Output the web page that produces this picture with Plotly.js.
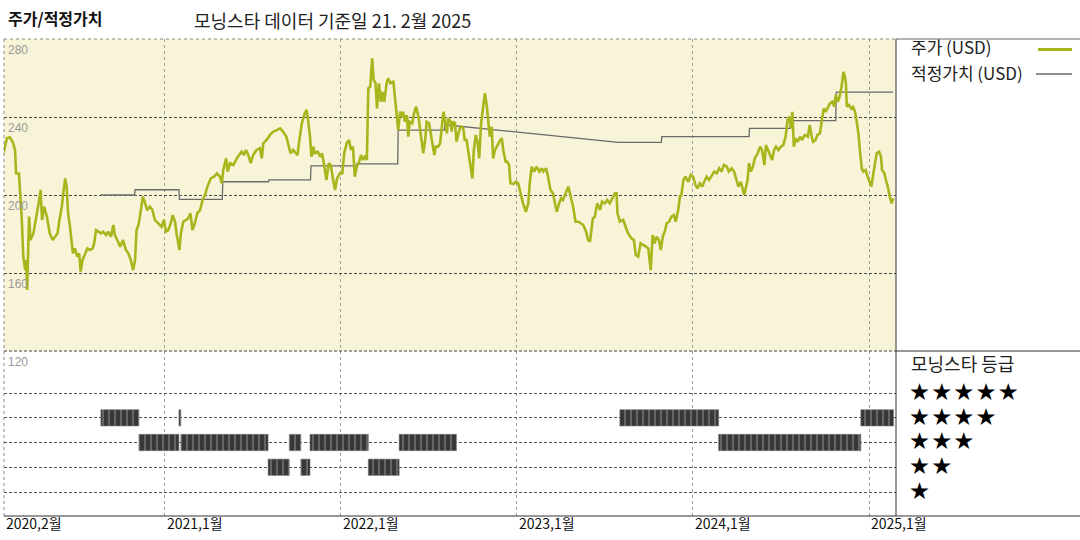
<!DOCTYPE html>
<html><head><meta charset="utf-8">
<script src="https://cdn.plot.ly/plotly-3.0.1.min.js"></script>
<style>html,body{margin:0;padding:0;background:#fff;}#chart{width:1080px;height:540px;}</style>
</head><body><div id="chart"></div>
<script>
// ---- Data ----
const priceDates = [
'2020-02-01','2020-02-08','2020-02-14','2020-02-20','2020-02-25','2020-02-27','2020-03-04','2020-03-08','2020-03-10','2020-03-13',
'2020-03-17','2020-03-19','2020-03-21','2020-03-25','2020-03-28','2020-04-03','2020-04-11','2020-04-15','2020-04-18','2020-04-21',
'2020-04-25','2020-05-01','2020-05-07','2020-05-13','2020-05-18','2020-05-23','2020-05-27','2020-06-01','2020-06-04','2020-06-08',
'2020-06-11','2020-06-14','2020-06-18','2020-06-24','2020-06-28','2020-07-03','2020-07-07','2020-07-10','2020-07-14','2020-07-19',
'2020-07-24','2020-07-29','2020-08-04','2020-08-07','2020-08-11','2020-08-16','2020-08-21','2020-08-26','2020-09-01','2020-09-05',
'2020-09-11','2020-09-16','2020-09-19','2020-09-24','2020-09-30','2020-10-06','2020-10-12','2020-10-17','2020-10-22','2020-10-27',
'2020-10-31','2020-11-03','2020-11-07','2020-11-10','2020-11-16','2020-11-21','2020-11-25','2020-12-01','2020-12-06','2020-12-11',
'2020-12-18','2020-12-25','2020-12-30',
'2021-01-03','2021-01-08','2021-01-13','2021-01-17','2021-01-22','2021-01-25','2021-01-31','2021-02-03','2021-02-08','2021-02-14',
'2021-02-18','2021-02-23','2021-02-27','2021-03-04','2021-03-09','2021-03-15','2021-03-20','2021-03-25','2021-03-30','2021-04-06',
'2021-04-13','2021-04-19','2021-04-25','2021-04-29','2021-05-02','2021-05-08','2021-05-11','2021-05-16','2021-05-23','2021-05-30',
'2021-06-04','2021-06-09','2021-06-14','2021-06-18','2021-06-23','2021-06-28','2021-07-03','2021-07-10','2021-07-17','2021-07-21',
'2021-07-24','2021-07-31','2021-08-07','2021-08-14','2021-08-21','2021-08-28','2021-09-03','2021-09-10','2021-09-15','2021-09-19',
'2021-09-24','2021-09-29','2021-10-03','2021-10-06','2021-10-12','2021-10-18','2021-10-22','2021-10-25','2021-10-29','2021-11-01',
'2021-11-05','2021-11-08','2021-11-14','2021-11-19','2021-11-23','2021-11-28','2021-12-02','2021-12-07','2021-12-11','2021-12-16',
'2021-12-20','2021-12-24','2021-12-30',
'2022-01-04','2022-01-08','2022-01-13','2022-01-18','2022-01-22','2022-01-26','2022-01-30','2022-02-03','2022-02-08','2022-02-12',
'2022-02-16','2022-02-20','2022-02-24','2022-02-27','2022-03-03','2022-03-07','2022-03-10','2022-03-14','2022-03-17','2022-03-21',
'2022-03-25','2022-03-28','2022-04-01','2022-04-06','2022-04-09','2022-04-14','2022-04-20','2022-04-23','2022-04-27','2022-04-30',
'2022-05-04','2022-05-07','2022-05-10','2022-05-14','2022-05-18','2022-05-21','2022-05-24','2022-05-29','2022-06-02','2022-06-06',
'2022-06-11','2022-06-14','2022-06-18','2022-06-21','2022-06-25','2022-06-28','2022-07-03','2022-07-07','2022-07-10','2022-07-14',
'2022-07-17','2022-07-22','2022-07-26','2022-07-29','2022-08-02','2022-08-05','2022-08-09','2022-08-12','2022-08-17','2022-08-19',
'2022-08-22','2022-08-26','2022-08-29','2022-09-02','2022-09-05','2022-09-09','2022-09-12','2022-09-15','2022-09-19','2022-09-22',
'2022-09-27','2022-10-01','2022-10-04','2022-10-08','2022-10-12','2022-10-15','2022-10-19','2022-10-24','2022-10-27','2022-10-31',
'2022-11-03','2022-11-06','2022-11-10','2022-11-13','2022-11-17','2022-11-20','2022-11-26','2022-12-01','2022-12-04','2022-12-09',
'2022-12-12','2022-12-16','2022-12-19','2022-12-25','2022-12-30',
'2023-01-04','2023-01-09','2023-01-14','2023-01-20','2023-01-25','2023-01-28','2023-02-01','2023-02-06','2023-02-11','2023-02-17',
'2023-02-22','2023-02-25','2023-03-03','2023-03-07','2023-03-12','2023-03-17','2023-03-21','2023-03-25','2023-03-30','2023-04-03',
'2023-04-07','2023-04-13','2023-04-18','2023-04-23','2023-04-28','2023-05-03','2023-05-09','2023-05-14','2023-05-19','2023-05-25',
'2023-05-29','2023-06-02','2023-06-08','2023-06-12','2023-06-17','2023-06-23','2023-06-27','2023-07-03','2023-07-08','2023-07-13',
'2023-07-19','2023-07-24','2023-07-27','2023-07-29','2023-08-03','2023-08-10','2023-08-15','2023-08-20','2023-08-27','2023-09-01',
'2023-09-05','2023-09-10','2023-09-15','2023-09-21','2023-09-26','2023-10-01','2023-10-04','2023-10-06','2023-10-10','2023-10-14',
'2023-10-18','2023-10-23','2023-10-27','2023-10-31','2023-11-05','2023-11-08','2023-11-13','2023-11-18','2023-11-23','2023-11-27',
'2023-12-02','2023-12-06','2023-12-08','2023-12-13','2023-12-17','2023-12-23','2023-12-28',
'2024-01-02','2024-01-07','2024-01-11','2024-01-16','2024-01-21','2024-01-25','2024-01-30','2024-02-04','2024-02-09','2024-02-15',
'2024-02-20','2024-02-25','2024-03-01','2024-03-06','2024-03-12','2024-03-16','2024-03-22','2024-03-27','2024-04-01','2024-04-05',
'2024-04-10','2024-04-14','2024-04-17','2024-04-21','2024-04-24','2024-04-27','2024-05-01','2024-05-05','2024-05-09','2024-05-15',
'2024-05-20','2024-05-24','2024-05-29','2024-06-01','2024-06-05','2024-06-09','2024-06-14','2024-06-18','2024-06-22','2024-06-27',
'2024-07-02','2024-07-07','2024-07-12','2024-07-16','2024-07-20','2024-07-23','2024-07-26','2024-07-29','2024-08-02','2024-08-06',
'2024-08-11','2024-08-15','2024-08-21','2024-08-27','2024-08-31','2024-09-04','2024-09-07','2024-09-12','2024-09-16','2024-09-21',
'2024-09-25','2024-09-29','2024-10-03','2024-10-07','2024-10-12','2024-10-17','2024-10-21','2024-10-24','2024-10-28','2024-10-31',
'2024-11-05','2024-11-09','2024-11-12','2024-11-14','2024-11-16','2024-11-20','2024-11-25','2024-11-29','2024-12-03','2024-12-06',
'2024-12-10','2024-12-13','2024-12-17','2024-12-20','2024-12-25','2024-12-29',
'2025-01-02','2025-01-06','2025-01-10','2025-01-13','2025-01-17','2025-01-22','2025-01-26','2025-01-28','2025-02-02','2025-02-05',
'2025-02-09','2025-02-13','2025-02-17','2025-02-20'
];
const priceValues = [
221.4,229.1,229.6,227.3,223.0,211.1,211.0,195.9,187.2,168.4,
161.5,166.7,151.3,188.9,176.9,180.3,190.6,197.4,202.6,187.2,
194.0,188.9,180.3,176.9,178.6,180.3,187.2,194.0,200.9,208.5,
204.3,190.6,183.7,170.1,172.6,168.4,170.1,160.7,166.7,170.0,
172.6,171.8,172.6,175.2,182.0,181.2,180.3,181.2,179.5,181.2,
178.6,184.6,179.5,176.9,173.5,176.9,171.8,170.1,166.7,161.5,
166.7,182.0,184.6,188.9,199.1,195.7,192.3,194.0,192.3,187.2,
185.5,183.7,187.2,
181.2,182.0,185.5,189.7,186.3,180.3,171.8,180.3,186.3,187.2,
188.0,190.6,182.0,185.5,190.6,192.3,197.4,200.0,204.3,208.5,
209.4,211.1,209.4,206.0,212.8,218.8,212.0,216.3,215.4,218.8,
220.5,222.2,220.5,223.1,220.5,216.3,220.5,223.1,224.0,218.8,
226.5,228.2,230.8,232.5,233.3,234.2,232.5,229.9,224.8,221.4,
223.1,221.4,220.5,226.5,236.8,241.9,243.6,238.5,229.9,219.6,
224.8,221.4,222.2,219.6,221.4,214.5,207.7,216.3,215.4,207.7,
202.6,208.5,211.1,
211.1,221.4,226.5,228.2,223.1,224.8,209.4,214.5,217.1,220.5,
218.0,219.6,218.0,254.7,255.5,270.1,259.0,257.3,244.4,257.3,
247.8,253.0,247.8,257.3,259.8,257.3,258.1,251.3,241.0,233.3,
242.7,240.2,242.7,237.6,241.0,229.9,237.6,236.8,241.9,245.3,
240.2,235.0,228.2,221.4,228.2,237.6,236.8,231.6,226.5,220.5,
224.8,224.8,226.5,233.3,242.7,238.5,231.6,239.3,237.6,232.5,
237.6,236.8,227.3,231.6,234.2,235.0,234.2,228.2,228.2,223.1,
214.5,208.5,223.1,230.8,226.5,218.8,236.8,247.8,252.2,245.3,
238.5,229.9,235.0,218.8,223.1,224.8,227.3,229.1,223.1,217.1,
217.1,215.4,206.0,205.6,206.8,
206.0,200.9,195.7,191.4,195.7,206.0,214.5,212.0,214.5,212.0,
213.7,212.0,213.7,209.4,202.6,200.9,195.7,191.4,195.7,198.3,
197.4,200.9,204.3,199.1,194.0,186.3,186.3,185.5,184.6,181.2,
176.9,176.1,188.0,188.9,195.7,192.3,196.6,195.7,197.4,195.7,
198.3,200.9,200.9,190.6,186.3,187.2,183.7,180.3,177.8,176.9,
169.2,168.4,175.2,174.4,173.5,172.6,166.7,161.5,179.5,175.2,
178.6,176.9,171.8,178.6,182.0,185.5,186.3,188.9,189.7,186.3,
192.3,200.0,199.1,207.7,209.4,206.8,210.3,
209.4,205.1,203.4,206.0,204.3,206.8,209.4,207.7,209.4,212.0,
211.1,213.7,212.0,215.4,214.5,212.0,213.7,212.0,207.7,204.3,
206.8,202.6,200.0,204.3,207.7,216.3,212.0,214.5,218.8,221.4,
224.8,223.1,215.4,225.6,223.1,220.5,218.0,223.1,224.8,223.1,
224.8,225.6,229.9,238.5,240.2,234.2,242.7,224.8,229.1,227.3,
229.9,228.2,230.8,229.9,235.9,229.9,227.3,228.2,230.8,231.6,
237.6,244.4,242.7,244.4,247.0,247.8,245.3,251.3,247.8,249.6,
255.5,263.2,260.7,257.3,245.3,246.2,244.4,245.3,242.7,238.5,
231.6,223.1,213.7,212.0,212.8,209.4,
206.8,204.3,211.1,216.3,221.4,222.2,219.6,212.8,211.1,207.7,
204.3,199.1,195.7,198.3
];
const fairDates = ['2020-08-21','2020-10-30','2020-10-31','2021-01-30','2021-01-31','2021-04-30','2021-05-01','2021-08-04','2021-08-05',
  '2021-10-30','2021-10-31','2022-02-02','2022-02-03','2022-04-29','2022-04-30','2022-08-04','2022-08-05','2023-07-31',
  '2023-10-28','2023-10-29','2024-04-27','2024-04-28','2024-07-21','2024-07-22','2024-10-24','2024-10-25','2025-02-20'];
const fairValues = [200,200,202.7,202.7,197.8,197.8,206.8,206.8,207.8,
  207.8,214.9,214.9,216,216,233.3,233.3,236,227,
  227,229.9,229.9,234.2,234.2,238.1,238.1,252.8,252.8];
const ratingStart = ['2020-08-21','2020-11-08','2021-01-30','2021-02-03','2021-08-03','2021-09-16','2021-10-10','2021-10-29','2022-02-27','2022-05-02','2023-08-03','2024-02-24','2024-12-15'];
const ratingEnd   = ['2020-11-08','2021-01-30','2021-02-03','2021-08-03','2021-09-16','2021-10-10','2021-10-29','2022-02-27','2022-05-02','2022-08-29','2024-02-24','2024-12-15','2025-02-21'];
const ratingStars = [4,3,4,3,2,3,2,3,2,3,4,3,4];
const yTickValues = [280,240,200,160,120];
const xTickDates = ['2020-02-02','2021-01-01','2022-01-01','2023-01-01','2024-01-01','2025-01-01'];
const xTickLabels = ['2020,2월','2021,1월','2022,1월','2023,1월','2024,1월','2025,1월'];
const starLevels = [5,4,3,2,1];
const xRange = ['2020-02-02','2025-02-26'];

// ---- Layout helpers (pixel positions of the page furniture) ----
const W = 1080, H = 540, ML = 4, MR = 184, MT = 39, MB = 24;
const PW = W - ML - MR, PH = H - MT - MB;
const px = x => (x - ML) / PW;
const py = y => (H - MB - y) / PH;
const split = py(351);
const KR = 'Noto Sans CJK KR, Noto Sans, sans-serif';
const OLIVE = '#A8B51C';

const traces = [
  {type:'scatter', mode:'lines', x:fairDates, y:fairValues, xaxis:'x', yaxis:'y',
   line:{color:'#6a6a6a', width:1.3}, hoverinfo:'skip'},
  {type:'scatter', mode:'lines', x:priceDates, y:priceValues, xaxis:'x', yaxis:'y',
   line:{color:OLIVE, width:2.6}, hoverinfo:'skip'},
  {type:'bar', orientation:'h', y:ratingStars, base:ratingStart,
   x:ratingStart.map((s,i)=> new Date(ratingEnd[i]) - new Date(s)),
   xaxis:'x', yaxis:'y2', width:0.66,
   marker:{color:'#3a3a3a', line:{width:0.6, color:'#777'},
     pattern:{shape:'|', fgcolor:'#8c8c8c', bgcolor:'#383838', size:6, solidity:0.18, fillmode:'replace'}},
   hoverinfo:'skip'}
];

const shapes = [
  {type:'rect', xref:'paper', yref:'paper', x0:0, x1:1, y0:split, y1:1, layer:'below',
   fillcolor:'#F8F4D8', line:{width:0}},
  {type:'line', xref:'paper', yref:'paper', x0:0, x1:1, y0:1, y1:1, line:{color:'#8a8a8a', width:1, dash:'dot'}},
  {type:'line', xref:'paper', yref:'paper', x0:0, x1:0, y0:0, y1:1, line:{color:'#8a8a8a', width:1, dash:'dot'}},
  {type:'line', xref:'paper', yref:'paper', x0:0, x1:1, y0:split, y1:split, line:{color:'#444', width:1, dash:'3px,2px'}},
  {type:'line', xref:'paper', yref:'paper', x0:1, x1:1, y0:0, y1:1, line:{color:'#333', width:1}},
  {type:'line', xref:'paper', yref:'paper', x0:1, x1:px(1080), y0:1, y1:1, line:{color:'#666', width:1}},
  {type:'line', xref:'paper', yref:'paper', x0:1, x1:px(1080), y0:split, y1:split, line:{color:'#333', width:1}},
  {type:'line', xref:'paper', yref:'paper', x0:0, x1:px(1080), y0:0, y1:0, line:{color:'#333', width:1}},
  {type:'line', xref:'paper', yref:'paper', x0:px(1038), x1:px(1072), y0:py(49.5), y1:py(49.5), line:{color:OLIVE, width:3}},
  {type:'line', xref:'paper', yref:'paper', x0:px(1036), x1:px(1072), y0:py(74), y1:py(74), line:{color:'#6a6a6a', width:1.3}}
];

const annotations = [
  {xref:'paper', yref:'paper', x:px(6), y:py(18), xanchor:'left', yanchor:'middle', showarrow:false,
   text:'<b>주가/적정가치</b>', font:{family:KR, size:16, color:'#111'}},
  {xref:'paper', yref:'paper', x:px(192), y:py(20), xanchor:'left', yanchor:'middle', showarrow:false,
   text:'모닝스타 데이터 기준일 21. 2월 2025', font:{family:KR, size:18, color:'#222'}},
  {xref:'paper', yref:'paper', x:px(909), y:py(47), xanchor:'left', yanchor:'middle', showarrow:false,
   text:'주가 (USD)', font:{family:KR, size:17, color:'#222'}},
  {xref:'paper', yref:'paper', x:px(909), y:py(72.5), xanchor:'left', yanchor:'middle', showarrow:false,
   text:'적정가치 (USD)', font:{family:KR, size:17, color:'#222'}},
  {xref:'paper', yref:'paper', x:px(909), y:py(363), xanchor:'left', yanchor:'middle', showarrow:false,
   text:'모닝스타 등급', font:{family:KR, size:18, color:'#222'}},
  // star legend: one multi-line text, one row per rating level (line spacing matches the rating grid)
  {xref:'paper', yref:'y2', x:px(909), y:(starLevels[0] + starLevels[starLevels.length-1]) / 2, yshift:2.5,
   xanchor:'left', yanchor:'middle', align:'left', showarrow:false, borderpad:0,
   text:starLevels.map(n => Array(n).fill('★').join('\u2006')).join('<br>'),
   font:{family:KR, size:19, color:'#000'}}
];
yTickValues.forEach(v => annotations.push({xref:'paper', yref:'y', x:0, y:v, xanchor:'left', yanchor:'top', xshift:2, yshift:-2,
  showarrow:false, text:String(v), font:{family:'Liberation Sans, Arial, sans-serif', size:12, color:'#9a9a9a'}}));
xTickDates.forEach((d,i) => annotations.push({xref:'x', yref:'paper', x:d, y:py(523), xanchor:'left', yanchor:'middle', xshift:0,
  showarrow:false, text:xTickLabels[i], font:{family:KR, size:14, color:'#111'}}));

const layout = {
  width:W, height:H, margin:{l:ML, r:MR, t:MT, b:MB},
  paper_bgcolor:'#ffffff', plot_bgcolor:'rgba(0,0,0,0)', showlegend:false, hovermode:false,
  xaxis:{type:'date', range:xRange, tickvals:xTickDates, showticklabels:false, ticks:'',
    showgrid:true, gridcolor:'#a0a0a0', griddash:'dot', gridwidth:1, zeroline:false, showline:false,
    anchor:'y2', fixedrange:true},
  yaxis:{domain:[split,1], range:[120,280], tickvals:yTickValues, showticklabels:false, ticks:'',
    showgrid:true, gridcolor:'#4a4a4a', griddash:'3px,2px', zeroline:false, showline:false, anchor:'x'},
  yaxis2:{domain:[0,split], range:[0.03,6.7], tickvals:starLevels, showticklabels:false, ticks:'',
    showgrid:true, gridcolor:'#555', griddash:'3px,2px', zeroline:false, showline:false, anchor:'x'},
  shapes:shapes, annotations:annotations, bargap:0
};
Plotly.newPlot('chart', traces, layout, {staticPlot:true, displayModeBar:false});
</script></body></html>
